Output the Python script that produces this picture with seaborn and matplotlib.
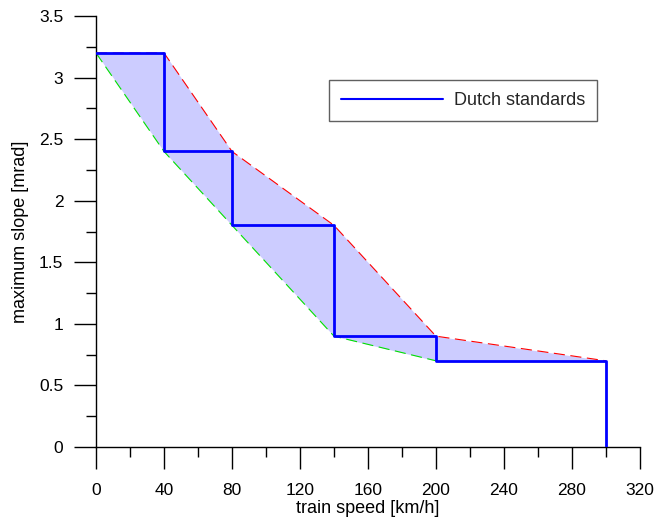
import numpy as np
import pandas as pd
import matplotlib.pyplot as plt
import seaborn as sns
from matplotlib.ticker import MultipleLocator

# band limits and Dutch standard steps
speed = [0, 40, 80, 140, 200, 300]
upper = [3.2, 3.2, 2.4, 1.8, 0.9, 0.7]
lower = [3.2, 2.4, 1.8, 0.9, 0.7, 0.7]

step_speed = [0, 40, 40, 80, 80, 140, 140, 200, 200, 300, 300]
step_slope = [3.2, 3.2, 2.4, 2.4, 1.8, 1.8, 0.9, 0.9, 0.7, 0.7, 0.0]

sns.set_style('ticks')
plt.rcParams['font.family'] = ['Liberation Sans', 'DejaVu Sans']

fig = plt.figure(figsize=(6.55, 5.2), dpi=100)
ax = fig.add_axes([0.1466, 0.1404, 0.8304, 0.8288])

ax.fill_between(speed, lower, upper, color='#ccccff', linewidth=0, zorder=1)
ax.plot(speed, upper, color='red', linestyle=(0, (10, 5)), linewidth=0.8, zorder=2)
ax.plot(speed[:5], lower[:5], color='#00e000', linestyle=(0, (10, 5)), linewidth=0.8, zorder=2)

steps = pd.DataFrame({'speed': step_speed, 'slope': step_slope})
sns.lineplot(data=steps, x='speed', y='slope', sort=False, estimator=None,
             color='blue', linewidth=2, label='Dutch standards', ax=ax, zorder=3)

ax.set_xlim(0, 320)
ax.set_ylim(0, 3.5)
ax.xaxis.set_major_locator(MultipleLocator(40))
ax.xaxis.set_minor_locator(MultipleLocator(20))
ax.yaxis.set_minor_locator(MultipleLocator(0.25))
ax.set_yticks(np.arange(0, 3.51, 0.5))
ax.set_yticklabels(['0', '0.5', '1', '1.5', '2', '2.5', '3', '3.5'])

for side in ['top', 'right']:
    ax.spines[side].set_visible(False)
for side in ['left', 'bottom']:
    ax.spines[side].set_color('black')
    ax.spines[side].set_linewidth(1)
ax.tick_params(which='major', length=15.5, width=1, color='black', labelsize=12.5,
               labelcolor='black')
ax.tick_params(which='minor', length=7.5, width=1, color='black')
ax.tick_params(axis='x', which='major', pad=10.5)
ax.tick_params(axis='y', which='major', pad=8)

ax.set_xlabel('train speed [km/h]', fontsize=13, labelpad=1.5, color='black')
ax.set_ylabel('maximum slope [mrad]', fontsize=13, labelpad=7, color='black')

leg = ax.legend(loc='upper left', bbox_to_anchor=(0.428, 0.851), fontsize=13,
                handlelength=5.7, handletextpad=0.6, fancybox=False, framealpha=1,
                edgecolor='#606060', borderpad=0.65, borderaxespad=0)
leg.get_frame().set_linewidth(1)
for h in leg.get_lines():
    h.set_linewidth(1.5)

fig.savefig('out.png', dpi=100)
